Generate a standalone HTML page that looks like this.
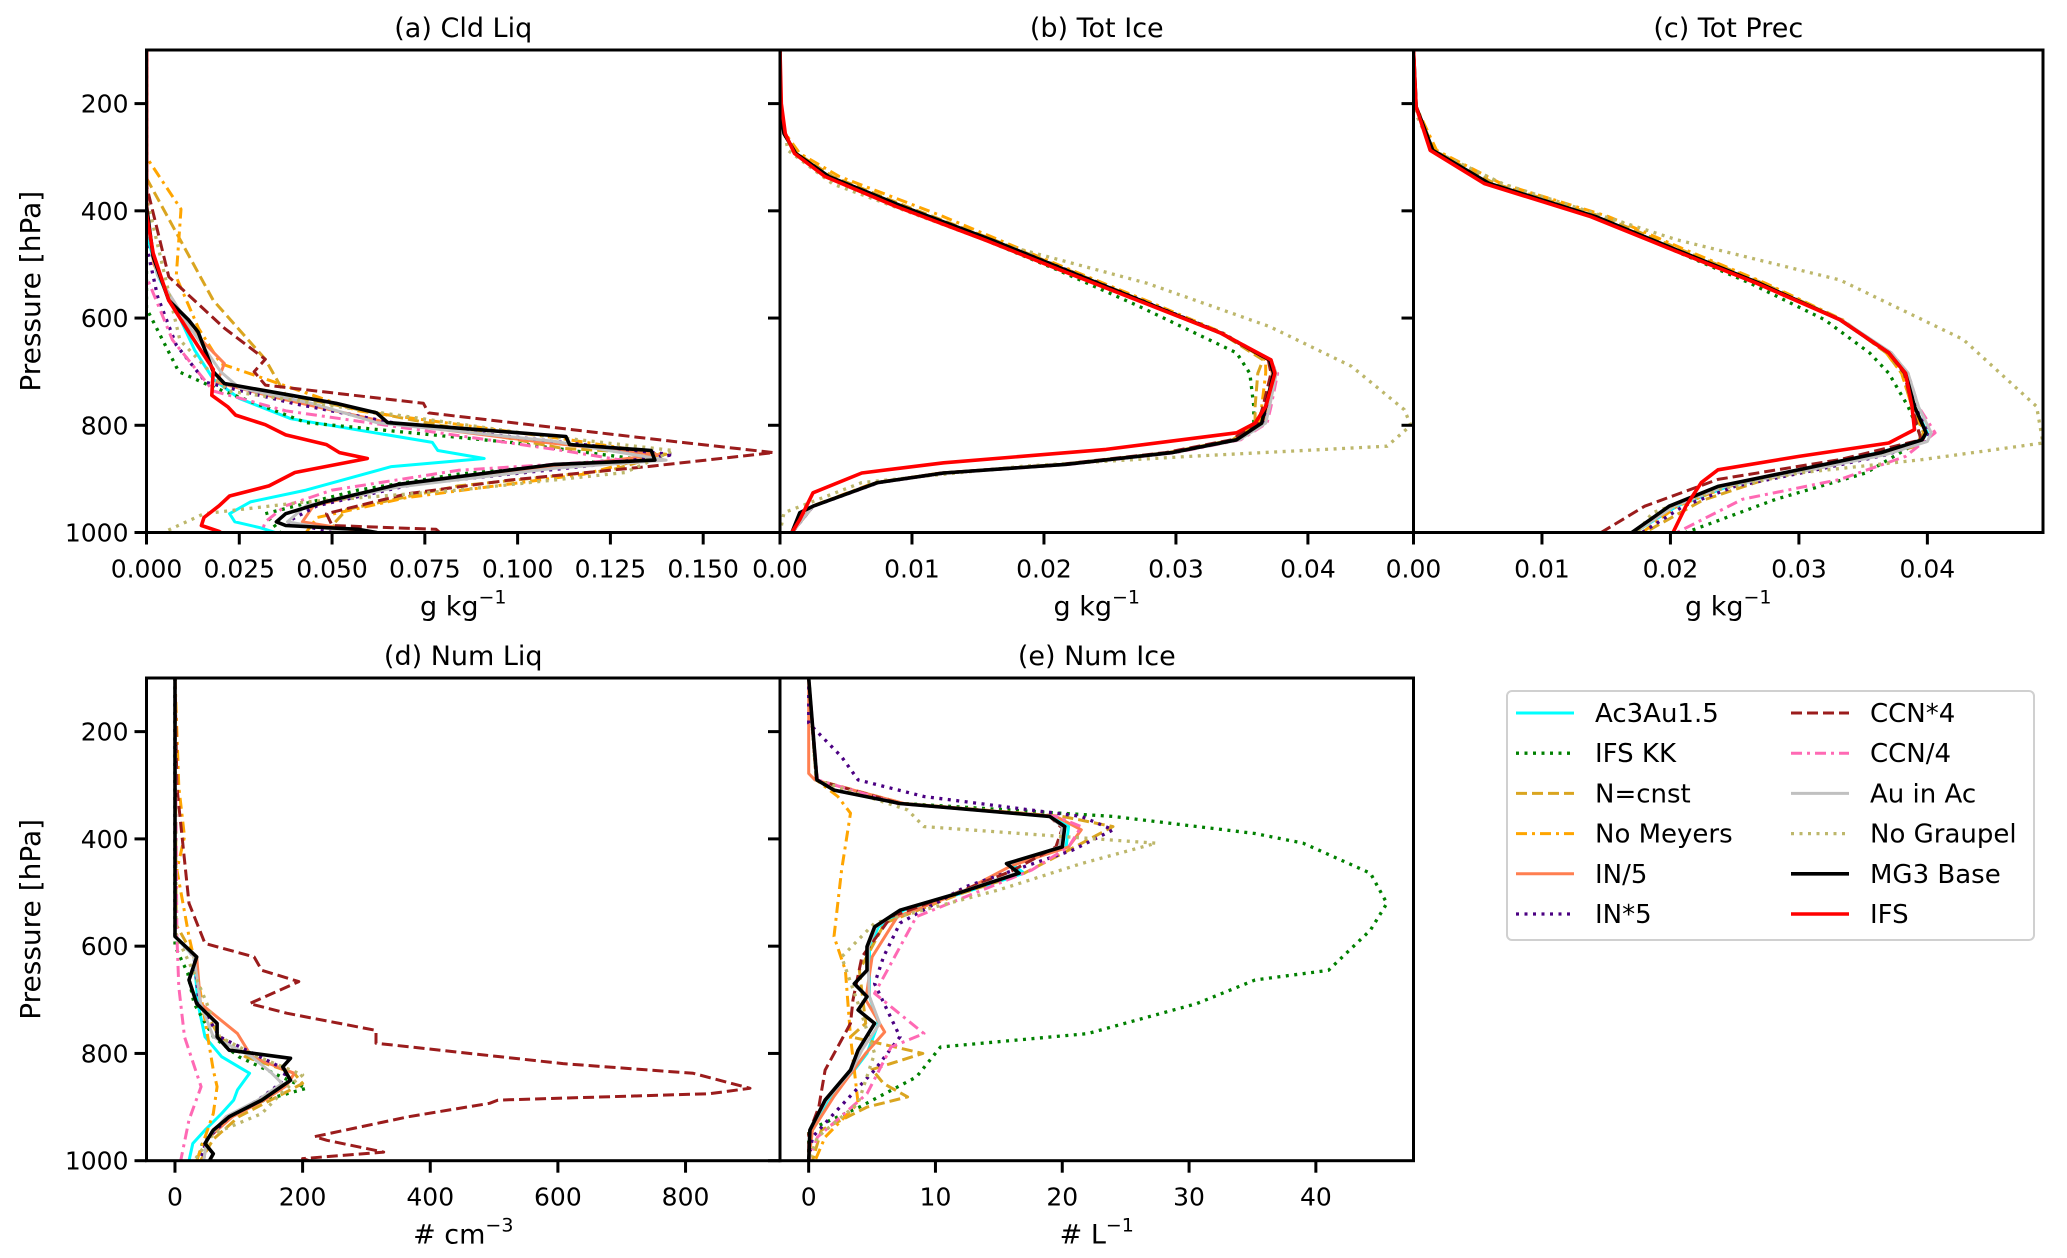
<!DOCTYPE html>
<html><head><meta charset="utf-8"><style>
html,body{margin:0;padding:0;background:#fff;}
svg{display:block;font-family:"DejaVu Sans","Liberation Sans",sans-serif;}
</style></head><body>
<svg id="fig" width="2067" height="1258" viewBox="0 0 2067 1258" xmlns="http://www.w3.org/2000/svg"></svg>
<script>
// ---- series definitions (legend order) ----
const seriesKeys = ["ac3","ifskk","ncnst","nomey","in5d","in5m","ccn4m","ccn4d","auac","nogr","mg3","ifs"];
const seriesLabels = ["Ac3Au1.5","IFS KK","N=cnst","No Meyers","IN/5","IN*5","CCN*4","CCN/4","Au in Ac","No Graupel","MG3 Base","IFS"];

// ---- panel (a) Cld Liq [p hPa, g/kg] ----
const a_mg3=[[100,0],[390,0],[486,0.0018],[567,0.006],[604,0.0114],[626,0.0139],[700,0.018],[722,0.021],[744,0.039],[759,0.051],[777,0.062],[795,0.065],[821,0.113],[836,0.114],[847,0.136],[865,0.137],[873,0.110],[910,0.068],[943,0.048],[965,0.0375],[980,0.035],[987,0.0375],[994,0.057],[1000,0.062]];
const a_ifs=[[100,0],[405,0],[479,0.0018],[567,0.006],[626,0.0114],[696,0.018],[744,0.0176],[766,0.022],[781,0.024],[799,0.032],[818,0.0375],[836,0.0485],[851,0.052],[862,0.0595],[888,0.040],[913,0.033],[932,0.0224],[950,0.0196],[972,0.0155],[987,0.0148],[998,0.0196],[1000,0.02]];
const a_ac3=[[100,0],[440,0],[520,0.003],[600,0.009],[660,0.013],[714,0.018],[750,0.025],[788,0.039],[832,0.077],[847,0.0785],[862,0.091],[877,0.066],[921,0.043],[943,0.028],[965,0.0224],[980,0.0238],[991,0.0306],[1000,0.0347]];
const a_ccn4m=[[100,0],[353,0],[523,0.006],[619,0.021],[677,0.032],[700,0.029],[725,0.032],[759,0.0746],[777,0.076],[829,0.1405],[851,0.169],[877,0.135],[902,0.098],[928,0.070],[965,0.0485],[987,0.050],[994,0.078],[1000,0.079]];
const a_nomey=[[100,0],[300,0],[397,0.0093],[523,0.008],[619,0.014],[685,0.020],[773,0.057],[825,0.112],[854,0.139],[891,0.118],[935,0.070],[972,0.046],[1000,0.043]];
const a_ncnst=[[100,0],[339,0],[567,0.018],[677,0.032],[744,0.0375],[788,0.070],[843,0.112],[854,0.14],[884,0.125],[913,0.084],[957,0.054],[987,0.050],[1000,0.057]];
const a_in5d=[[100,0],[400,0],[500,0.002],[600,0.009],[685,0.021],[720,0.019],[750,0.036],[795,0.065],[830,0.105],[855,0.138],[870,0.12],[910,0.07],[950,0.045],[980,0.042],[1000,0.06]];
const a_in5m=[[100,0],[464,0],[560,0.003],[650,0.008],[720,0.016],[760,0.04],[800,0.07],[830,0.11],[855,0.142],[875,0.12],[910,0.072],[950,0.046],[980,0.038],[1000,0.05]];
const a_ccn4d=[[100,0],[523,0],[641,0.007],[736,0.018],[773,0.0375],[847,0.112],[865,0.128],[884,0.084],[921,0.050],[950,0.0375],[980,0.032],[1000,0.031]];
const a_ifskk=[[100,0],[582,0],[700,0.0087],[729,0.018],[795,0.043],[832,0.098],[862,0.131],[891,0.084],[921,0.057],[965,0.032],[1000,0.036]];
const a_nogr=[[100,0],[375,0],[641,0.009],[736,0.022],[818,0.105],[847,0.142],[888,0.129],[921,0.084],[943,0.043],[965,0.0155],[1000,0.0045]];
const a_auac=[[100,0],[420,0],[520,0.003],[620,0.012],[700,0.02],[730,0.025],[760,0.045],[795,0.062],[830,0.11],[865,0.140],[880,0.11],[915,0.068],[950,0.043],[980,0.038],[1000,0.055]];

// ---- panel (b) Tot Ice ----
const b_mg3=[[100,0],[200,0],[256,0.0003],[293,0.0012],[336,0.0037],[392,0.0093],[454,0.016],[510,0.0216],[572,0.0278],[628,0.0334],[678,0.0371],[703,0.0374],[765,0.0368],[796,0.0365],[827,0.0346],[851,0.0297],[873,0.0216],[889,0.0124],[907,0.0074],[951,0.0025],[963,0.0015],[1000,0.0009]];
const b_ifs=[[100,0],[200,0.0001],[256,0.0004],[293,0.0011],[336,0.0034],[392,0.0088],[454,0.0155],[510,0.0212],[572,0.0276],[628,0.0334],[678,0.0372],[703,0.0375],[765,0.0368],[796,0.036],[814,0.0346],[845,0.0247],[870,0.0124],[889,0.0062],[926,0.0025],[976,0.0015],[1000,0.0009]];
const b_ifskk=[[100,0],[200,0],[256,0.0003],[293,0.0012],[336,0.0036],[392,0.009],[454,0.0155],[510,0.021],[578,0.0272],[665,0.0346],[703,0.0356],[765,0.0359],[796,0.0359],[827,0.0346],[851,0.0297],[873,0.0216],[889,0.0124],[907,0.0074],[951,0.0025],[1000,0.0009]];
const b_nogr=[[100,0],[220,0.0001],[287,0.0006],[350,0.004],[454,0.0155],[535,0.0278],[616,0.0371],[690,0.0433],[771,0.0473],[800,0.0478],[839,0.046],[858,0.031],[876,0.0186],[907,0.0062],[963,0.0003],[1000,0]];
const b_nomey=[[100,0],[200,0],[256,0.0004],[293,0.0015],[336,0.0045],[411,0.0124],[500,0.021],[572,0.0282],[628,0.0336],[678,0.0368],[703,0.0368],[765,0.0365],[796,0.0363],[827,0.0345],[851,0.0295],[873,0.0214],[889,0.0122],[907,0.0072],[951,0.0024],[1000,0.0009]];
const b_ac3=[[100,0],[200,0],[256,0.0003],[293,0.0012],[336,0.0037],[392,0.0093],[454,0.016],[510,0.0216],[572,0.0278],[628,0.0334],[678,0.0371],[703,0.0373],[765,0.0369],[796,0.0367],[827,0.0345],[851,0.0296],[873,0.0214],[889,0.0123],[907,0.0073],[951,0.0025],[1000,0.0009]];
const b_ncnst=[[100,0],[200,0],[256,0.0003],[293,0.0013],[336,0.004],[392,0.0096],[454,0.0162],[510,0.0218],[572,0.0279],[628,0.0334],[678,0.0366],[703,0.0362],[765,0.036],[796,0.036],[827,0.0343],[851,0.0294],[873,0.0213],[889,0.0122],[907,0.0073],[951,0.0025],[1000,0.0009]];
const b_in5d=[[100,0],[200,0],[256,0.0003],[293,0.0012],[336,0.0037],[392,0.0093],[454,0.016],[510,0.0216],[572,0.0278],[628,0.0334],[678,0.037],[703,0.0373],[765,0.0369],[796,0.0366],[827,0.0346],[851,0.0296],[873,0.0215],[889,0.0124],[907,0.0074],[951,0.0025],[1000,0.0009]];
const b_in5m=[[100,0],[200,0],[256,0.0003],[293,0.0012],[336,0.0037],[392,0.0093],[454,0.016],[510,0.0217],[572,0.0279],[628,0.0335],[678,0.0371],[703,0.0375],[765,0.037],[796,0.0367],[827,0.0347],[851,0.0298],[873,0.0217],[889,0.0125],[907,0.0075],[951,0.0025],[1000,0.0009]];
const b_ccn4m=[[100,0],[200,0],[256,0.0003],[293,0.0012],[336,0.0037],[392,0.0093],[454,0.016],[510,0.0216],[572,0.0278],[628,0.0334],[678,0.037],[703,0.0372],[765,0.0366],[796,0.0362],[827,0.0342],[851,0.0292],[873,0.0212],[889,0.0122],[907,0.0073],[951,0.0025],[1000,0.0009]];
const b_ccn4d=[[100,0],[200,0],[256,0.0003],[293,0.0012],[336,0.0037],[392,0.0093],[454,0.016],[510,0.0216],[572,0.0278],[628,0.0334],[678,0.0371],[703,0.0377],[765,0.0372],[796,0.0369],[827,0.0349],[851,0.03],[873,0.0219],[889,0.0126],[907,0.0075],[951,0.0025],[1000,0.0009]];
const b_auac=[[100,0],[200,0],[256,0.0003],[293,0.0012],[336,0.0037],[392,0.0093],[454,0.016],[510,0.0216],[572,0.0278],[628,0.0334],[678,0.0372],[703,0.0376],[765,0.0371],[796,0.0368],[827,0.0348],[851,0.0298],[873,0.0217],[889,0.0125],[907,0.0075],[951,0.0025],[1000,0.0009]];

// ---- panel (c) Tot Prec ----
const c_mg3=[[100,0],[206,0.0002],[287,0.0015],[349,0.0059],[411,0.0142],[473,0.0205],[535,0.0269],[603,0.0332],[665,0.037],[703,0.0383],[765,0.039],[814,0.0399],[827,0.0396],[851,0.0364],[883,0.030],[914,0.0237],[951,0.0199],[1000,0.017]];
const c_ifs=[[100,0],[206,0.0002],[287,0.0013],[349,0.0055],[411,0.0138],[473,0.0202],[535,0.0267],[603,0.0332],[665,0.037],[703,0.0383],[765,0.0388],[808,0.039],[833,0.037],[858,0.030],[883,0.0237],[907,0.0224],[951,0.0212],[1000,0.0202]];
const c_ccn4m=[[100,0],[206,0.0002],[287,0.0015],[349,0.0059],[411,0.0142],[473,0.0205],[535,0.0269],[603,0.0332],[665,0.037],[703,0.0382],[765,0.0388],[827,0.0395],[864,0.0332],[901,0.0237],[951,0.018],[1000,0.0146]];
const c_ccn4d=[[100,0],[206,0.0002],[287,0.0015],[349,0.0059],[411,0.0142],[473,0.0205],[535,0.0269],[603,0.0332],[665,0.0372],[703,0.0385],[765,0.0393],[814,0.0406],[858,0.0383],[901,0.0332],[938,0.0256],[1000,0.0205]];
const c_ifskk=[[100,0],[206,0.0002],[287,0.0015],[349,0.0058],[411,0.014],[473,0.0202],[535,0.0262],[603,0.032],[665,0.0355],[703,0.037],[765,0.0385],[827,0.0396],[889,0.0352],[938,0.0282],[1000,0.0212]];
const c_nogr=[[100,0],[220,0.0002],[287,0.0015],[350,0.007],[454,0.0205],[529,0.0332],[640,0.0428],[765,0.0485],[833,0.049],[864,0.0396],[889,0.030],[920,0.0237],[963,0.0186],[1000,0.0174]];
const c_ac3=[[100,0],[206,0.0002],[287,0.0015],[349,0.0059],[411,0.0142],[473,0.0205],[535,0.0269],[603,0.0332],[665,0.037],[703,0.0383],[765,0.039],[814,0.04],[830,0.0395],[851,0.0362],[883,0.0302],[914,0.0245],[951,0.0205],[1000,0.0172]];
const c_ncnst=[[100,0],[206,0.0002],[287,0.0016],[349,0.0063],[411,0.0147],[473,0.0209],[535,0.0272],[603,0.0333],[665,0.0368],[703,0.038],[765,0.0388],[814,0.0397],[840,0.039],[870,0.0335],[900,0.0275],[940,0.0225],[1000,0.018]];
const c_nomey=[[100,0],[206,0.0002],[287,0.0018],[349,0.0068],[411,0.0152],[473,0.0212],[535,0.0274],[603,0.0334],[665,0.0368],[703,0.038],[765,0.0388],[814,0.0398],[830,0.0394],[855,0.036],[885,0.0302],[914,0.0245],[951,0.0205],[1000,0.0178]];
const c_in5d=[[100,0],[206,0.0002],[287,0.0015],[349,0.0059],[411,0.0142],[473,0.0205],[535,0.0269],[603,0.0332],[665,0.037],[703,0.0383],[765,0.039],[814,0.0399],[830,0.0396],[855,0.0362],[885,0.0303],[914,0.024],[951,0.0202],[1000,0.0172]];
const c_in5m=[[100,0],[206,0.0002],[287,0.0015],[349,0.0059],[411,0.0142],[473,0.0205],[535,0.0269],[603,0.0332],[665,0.0371],[703,0.0384],[765,0.0392],[814,0.0402],[830,0.0399],[855,0.0368],[885,0.031],[914,0.025],[951,0.021],[1000,0.0178]];
const c_auac=[[100,0],[206,0.0002],[287,0.0015],[349,0.0059],[411,0.0142],[473,0.0205],[535,0.0269],[603,0.0333],[665,0.0372],[703,0.0385],[765,0.0393],[814,0.0403],[830,0.04],[855,0.0367],[885,0.0305],[914,0.0242],[951,0.0203],[1000,0.0172]];

// ---- panel (d) Num Liq [# cm-3] ----
const d_mg3=[[100,0],[582,0],[620,34],[663,22],[707,34],[744,66],[769,66],[794,85],[809,181],[825,169],[850,181],[887,136],[918,85],[943,60],[968,47],[987,60],[1000,54]];
const d_ccn4m=[[100,0],[303,3],[520,22],[595,47],[620,124],[645,136],[666,194],[707,117],[725,175],[757,315],[781,315],[819,608],[837,812],[865,901],[875,838],[887,506],[893,493],[918,366],[955,219],[962,238],[984,327],[996,200],[1000,210]];
const d_ac3=[[100,0],[582,0],[620,30],[707,36],[769,47],[806,73],[837,117],[868,98],[887,92],[912,73],[943,47],[968,28],[1000,22]];
const d_ccn4d=[[100,0],[582,3],[676,6],[769,15],[862,41],[924,22],[1000,9]];
const d_nomey=[[100,0],[303,6],[396,15],[458,3],[582,22],[645,34],[831,60],[862,66],[912,60],[1000,34]];
const d_ncnst=[[100,0],[560,2],[620,30],[707,40],[769,70],[806,110],[837,187],[856,200],[887,150],[918,100],[960,60],[1000,40]];
const d_in5d=[[100,0],[582,0],[620,34],[707,40],[763,98],[806,120],[837,187],[860,175],[887,140],[918,90],[960,50],[1000,45]];
const d_ifskk=[[100,0],[600,0],[650,20],[707,30],[769,60],[806,100],[840,160],[865,206],[887,140],[918,85],[960,45],[1000,35]];
const d_nogr=[[100,0],[580,2],[650,30],[707,50],[769,70],[806,130],[840,200],[870,170],[912,136],[950,60],[1000,30]];
const d_auac=[[100,0],[582,0],[620,30],[707,40],[769,60],[806,120],[835,150],[856,168],[887,130],[918,80],[960,50],[1000,45]];
const d_in5m=[[100,0],[582,0],[620,30],[707,38],[769,70],[831,175],[856,165],[887,130],[918,85],[960,50],[1000,40]];

// ---- panel (e) Num Ice [# L-1] ----
const e_mg3=[[100,0],[290,0.65],[309,2],[334,7.2],[358,19],[377,20.2],[415,20],[446,15.6],[464,16.6],[502,11.7],[533,7.2],[564,5.2],[601,4.6],[645,4.6],[670,3.6],[694,4.6],[719,3.9],[744,5.2],[794,3.9],[831,3.3],[887,1.3],[943,0.1],[1000,0]];
const e_ifskk=[[100,0],[290,0.6],[309,2],[334,7.5],[358,24],[390,35.2],[408,39],[464,44.3],[520,45.6],[570,44.3],[645,41],[663,35.2],[707,30.6],[763,22],[788,10.4],[844,8.5],[900,4],[943,0],[1000,0]];
const e_nogr=[[100,0],[290,0.6],[346,7.8],[377,9.1],[408,27.4],[446,21.5],[495,15],[557,5.2],[620,2.6],[707,3.9],[800,5.2],[893,3.9],[956,0.7],[1000,0]];
const e_in5m=[[100,0],[184,0],[247,2.6],[290,3.9],[321,9.1],[358,21.5],[383,24],[421,20.8],[489,12.4],[557,7.2],[620,5.9],[670,5.2],[769,7.2],[831,5.2],[912,2],[956,0.3],[1000,0]];
const e_nomey=[[100,0],[290,0.6],[321,2.3],[352,3.3],[458,2.6],[582,2],[645,2.9],[769,3.3],[893,3.9],[956,1.3],[1000,0.5]];
const e_ncnst=[[100,0],[290,0.6],[334,7.5],[358,20],[377,24],[415,21],[464,17],[502,12],[557,6],[645,4],[744,4.5],[769,3.3],[800,9],[830,5],[856,5.9],[881,7.8],[900,4.6],[943,1],[1000,0.3]];
const e_ccn4d=[[100,0],[290,0.7],[334,7],[358,19.5],[377,21.5],[415,20.5],[458,17.6],[545,8.5],[645,6.2],[688,5.2],[713,6.5],[763,9.1],[788,6.5],[875,4.6],[956,0.7],[1000,0]];
const e_in5d=[[100,0],[278,0],[290,0.5],[334,7.5],[358,19.5],[383,21.5],[415,20.5],[450,16],[500,12],[545,7],[620,5],[700,4.5],[760,6],[800,4.5],[880,2],[943,0.3],[1000,0]];
const e_ccn4m=[[100,0],[290,0.6],[334,7.2],[358,19],[380,20],[415,19.5],[460,16],[502,11.5],[545,6.5],[620,4.2],[700,3.5],[744,3.3],[831,1.3],[900,0.8],[950,0],[1000,0]];
const e_ac3=[[100,0],[290,0.65],[309,2],[334,7.2],[358,19],[377,20.5],[415,20.3],[446,16],[464,17],[502,12],[533,7.5],[564,5.5],[601,4.8],[645,4.8],[694,4.8],[744,5.5],[800,4.6],[831,3.6],[887,1.5],[943,0.2],[1000,0]];
const e_auac=[[100,0],[290,0.65],[309,2],[334,7.2],[358,19],[377,20],[415,19.8],[446,15.8],[464,16.4],[502,11.6],[533,7.2],[564,5.3],[601,4.7],[645,4.7],[694,4.8],[744,5.6],[794,4.2],[831,3.4],[887,1.4],[943,0.1],[1000,0]];

// ---- tick labels ----
const yTicks=[200,400,600,800,1000];
const aTicks=[0,0.025,0.05,0.075,0.1,0.125,0.15];
const aTickLabels=["0.000","0.025","0.050","0.075","0.100","0.125","0.150"];
const bcTicks=[0,0.01,0.02,0.03,0.04];
const bcTickLabels=["0.00","0.01","0.02","0.03","0.04"];
const dTicks=[0,200,400,600,800];
const dTickLabels=["0","200","400","600","800"];
const eTicks=[0,10,20,30,40];
const eTickLabels=["0","10","20","30","40"];

const styles={
 ac3:{c:"#00ffff",d:"",w:3},
 ifskk:{c:"#008000",d:"3,5.5",w:3.3},
 ncnst:{c:"#daa520",d:"11,5",w:3},
 nomey:{c:"#ffa500",d:"11,5,3,5",w:3},
 in5d:{c:"#ff7f50",d:"",w:3},
 in5m:{c:"#4b0082",d:"3,5.5",w:3.3},
 ccn4m:{c:"#9b1c1c",d:"11,5",w:3},
 ccn4d:{c:"#ff69b4",d:"11,5,3,5",w:3},
 auac:{c:"#c0c0c0",d:"",w:3},
 nogr:{c:"#bdb76b",d:"3,5.5",w:3.3},
 mg3:{c:"#000000",d:"",w:3.6},
 ifs:{c:"#ff0000",d:"",w:3.6}
};

const panels=[
 {id:"a",title:"(a) Cld Liq",x0:146.5,x1:780,y0:50,y1:532.5,xmin:0,xmax:0.1707,ticks:aTicks,tl:aTickLabels,xl:"g kg",sup:"−1",ylab:true,
  data:{ac3:a_ac3,ifskk:a_ifskk,ncnst:a_ncnst,nomey:a_nomey,in5d:a_in5d,in5m:a_in5m,ccn4m:a_ccn4m,ccn4d:a_ccn4d,auac:a_auac,nogr:a_nogr,mg3:a_mg3,ifs:a_ifs}},
 {id:"b",title:"(b) Tot Ice",x0:780,x1:1413.5,y0:50,y1:532.5,xmin:0,xmax:0.048,ticks:bcTicks,tl:bcTickLabels,xl:"g kg",sup:"−1",ylab:false,
  data:{ac3:b_ac3,ifskk:b_ifskk,ncnst:b_ncnst,nomey:b_nomey,in5d:b_in5d,in5m:b_in5m,ccn4m:b_ccn4m,ccn4d:b_ccn4d,auac:b_auac,nogr:b_nogr,mg3:b_mg3,ifs:b_ifs}},
 {id:"c",title:"(c) Tot Prec",x0:1413.5,x1:2043,y0:50,y1:532.5,xmin:0,xmax:0.049,ticks:bcTicks,tl:bcTickLabels,xl:"g kg",sup:"−1",ylab:false,
  data:{ac3:c_ac3,ifskk:c_ifskk,ncnst:c_ncnst,nomey:c_nomey,in5d:c_in5d,in5m:c_in5m,ccn4m:c_ccn4m,ccn4d:c_ccn4d,auac:c_auac,nogr:c_nogr,mg3:c_mg3,ifs:c_ifs}},
 {id:"d",title:"(d) Num Liq",x0:146.5,x1:780,y0:678,y1:1160.7,xmin:-44.6,xmax:948,ticks:dTicks,tl:dTickLabels,xl:"# cm",sup:"−3",ylab:true,
  data:{ac3:d_ac3,ifskk:d_ifskk,ncnst:d_ncnst,nomey:d_nomey,in5d:d_in5d,in5m:d_in5m,ccn4m:d_ccn4m,ccn4d:d_ccn4d,auac:d_auac,nogr:d_nogr,mg3:d_mg3}},
 {id:"e",title:"(e) Num Ice",x0:780,x1:1413.5,y0:678,y1:1160.7,xmin:-2.26,xmax:47.7,ticks:eTicks,tl:eTickLabels,xl:"# L",sup:"−1",ylab:false,
  data:{ac3:e_ac3,ifskk:e_ifskk,ncnst:e_ncnst,nomey:e_nomey,in5d:e_in5d,in5m:e_in5m,ccn4m:e_ccn4m,ccn4d:e_ccn4d,auac:e_auac,nogr:e_nogr,mg3:e_mg3}}
];
const PMIN=100, PMAX=1000;
const NS="http://www.w3.org/2000/svg";
const svg=document.getElementById("fig");
function mk(tag,attrs,parent){const e=document.createElementNS(NS,tag);for(const k in attrs)e.setAttribute(k,attrs[k]);(parent||svg).appendChild(e);return e;}

const defs=mk("defs",{});
panels.forEach(P=>{
 const xs=v=>P.x0+(v-P.xmin)/(P.xmax-P.xmin)*(P.x1-P.x0);
 const ys=p=>P.y0+(p-PMIN)/(PMAX-PMIN)*(P.y1-P.y0);
 const cp=mk("clipPath",{id:"clip-"+P.id},defs);
 mk("rect",{x:P.x0,y:P.y0,width:P.x1-P.x0,height:P.y1-P.y0},cp);
 const g=mk("g",{});
 
 
 const lg=mk("g",{"clip-path":"url(#clip-"+P.id+")"},g);
 seriesKeys.forEach(k=>{
  const d=P.data[k]; if(!d) return;
  const s=styles[k];
  const pts=d.map(q=>xs(q[1]).toFixed(1)+","+ys(q[0]).toFixed(1)).join(" ");
  const pl=mk("polyline",{points:pts,fill:"none",stroke:s.c,"stroke-width":s.w,"stroke-linejoin":"round","stroke-linecap":s.d?"butt":"round"},lg);
  if(s.d) pl.setAttribute("stroke-dasharray",s.d);
  
  
 });
 // frame
 const fr=mk("rect",{x:P.x0,y:P.y0,width:P.x1-P.x0,height:P.y1-P.y0,fill:"none",stroke:"#000","stroke-width":3},g);
 
 
 // y ticks
 yTicks.forEach(p=>{
  mk("line",{x1:P.x0-12,x2:P.x0,y1:ys(p),y2:ys(p),stroke:"#000","stroke-width":3},g);
  if(P.ylab){const t=mk("text",{x:P.x0-18,y:ys(p)+9,"text-anchor":"end","font-size":25},g);t.textContent=p;
   
   }
 });
 // x ticks
 P.ticks.forEach((v,i)=>{
  mk("line",{x1:xs(v),x2:xs(v),y1:P.y1,y2:P.y1+12,stroke:"#000","stroke-width":3},g);
  const t=mk("text",{x:xs(v),y:P.y1+45,"text-anchor":"middle","font-size":25},g);t.textContent=P.tl[i];
  
  
 });
 const tt=mk("text",{x:(P.x0+P.x1)/2,y:P.y0-13,"text-anchor":"middle","font-size":27},g);tt.textContent=P.title;
 
 
 const xl=mk("text",{x:(P.x0+P.x1)/2,y:P.y1+83,"text-anchor":"middle","font-size":27},g);
 xl.textContent=P.xl;
 const sp=mk("tspan",{dy:-12,"font-size":19},xl);sp.textContent=P.sup;
 
 
 if(P.ylab){
  const cy=(P.y0+P.y1)/2;
  const yl=mk("text",{x:40,y:cy,"text-anchor":"middle","font-size":28,transform:"rotate(-90 40 "+cy+")"},g);
  yl.textContent="Pressure [hPa]";
  
  
 }
});

// legend
const L=mk("g",{});


mk("rect",{x:1507,y:691,width:527,height:249,rx:5,fill:"#fff",stroke:"#d0d0d0","stroke-width":2},L);
seriesKeys.forEach((k,i)=>{
 const col=i<6?0:1, row=i%6;
 const lx=col?1791:1516, tx=col?1870:1595, y=713+row*40.2;
 const s=styles[k];
 const ln=mk("line",{x1:lx,x2:lx+58,y1:y,y2:y,stroke:s.c,"stroke-width":s.w},L);
 if(s.d) ln.setAttribute("stroke-dasharray",s.d);
 const t=mk("text",{x:tx,y:y+9,"font-size":26},L);t.textContent=seriesLabels[i];
 
 
});
</script>
</body></html>
